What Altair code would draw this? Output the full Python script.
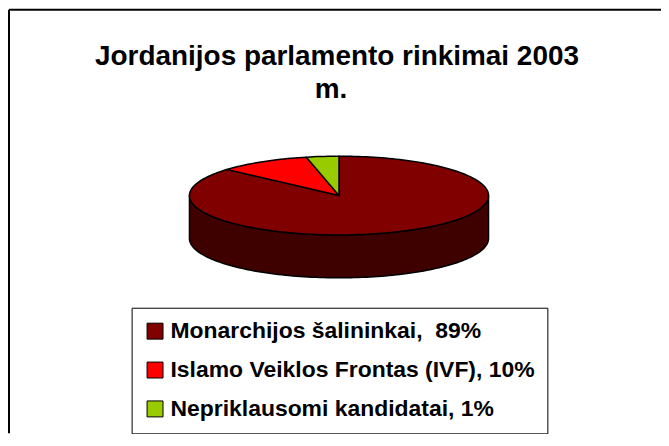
import math
import altair as alt

# ---- data ----
categories = ["Monarchijos šalininkai", "Islamo Veiklos Frontas (IVF)", "Nepriklausomi kandidatai"]
shares = [86.5, 10.0, 3.5]                 # slice sizes as drawn (percent)
printed_pct = ["\u00a0 89%", " 10%", " 1%"]  # percentages as printed in the legend
colors = ["#800000", "#FF0000", "#99CC00"]
side_colors = ["#3F0000", "#7F0000", "#4C6600"]
title_lines = ["Jordanijos parlamento rinkimai 2003", "m."]

labels = [f"{c},{p}" for c, p in zip(categories, printed_pct)]

# ---- 3-D pie geometry (unit radius, tilted) ----
K = 39.5 / 150.0   # ellipse flattening
D = 43.0 / 150.0   # depth of the pie wall


def pt(phi, dy=0.0):
    r = math.radians(phi)
    return [math.sin(r), -math.cos(r) * K + dy]


def arc(a, b, dy=0.0):
    n = max(2, int(math.ceil(abs(b - a) / 1.5)) + 1)
    return [pt(a + (b - a) * i / (n - 1), dy) for i in range(n)]


tops, sides = [], []
start = 0.0
total = sum(shares)
for lab, share, sc in zip(labels, shares, side_colors):
    end = start + share / total * 360.0
    ring = [[0.0, 0.0]] + arc(start, end) + [[0.0, 0.0]]
    tops.append({"type": "Feature", "properties": {"label": lab},
                 "geometry": {"type": "Polygon", "coordinates": [ring]}})
    a, b = max(start, 90.0), min(end, 270.0)
    if b > a:
        ring = arc(a, b) + arc(b, a, D)
        ring.append(ring[0])
        sides.append({"type": "Feature", "properties": {"fill": sc},
                      "geometry": {"type": "Polygon", "coordinates": [ring]}})
    start = end

W, H = 655, 426

side_layer = alt.Chart(alt.Data(values=sides)).mark_geoshape(
    stroke="black", strokeWidth=1.5, strokeJoin="round"
).encode(color=alt.Color("properties.fill:N", scale=None))

top_layer = alt.Chart(alt.Data(values=tops)).mark_geoshape(
    stroke="black", strokeWidth=1.5, strokeJoin="round", opacity=1
).encode(
    color=alt.Color(
        "properties.label:N",
        scale=alt.Scale(domain=labels, range=colors),
        sort=labels,
        legend=alt.Legend(
            title=None, orient="none", legendX=124, legendY=300,
            padding=12, strokeColor="black",
            symbolType="square", symbolSize=256, symbolStrokeColor="black",
            symbolStrokeWidth=1, symbolOpacity=1,
            labelFont="Liberation Sans", labelFontWeight="bold", labelFontSize=23,
            labelColor="black", labelLimit=1000, labelOffset=4, rowPadding=15,
        ),
    )
)

title1 = alt.Chart().mark_text(
    text=title_lines[0], font="Liberation Sans", fontWeight="bold", fontSize=28,
    align="center", baseline="middle", color="black"
).encode(x=alt.value(330), y=alt.value(49))
title2 = alt.Chart().mark_text(
    text=title_lines[1], font="Liberation Sans", fontWeight="bold", fontSize=28,
    align="center", baseline="middle", color="black"
).encode(x=alt.value(324), y=alt.value(82))

frame_left = alt.Chart().mark_rule(color="black", strokeWidth=2).encode(
    x=alt.value(1), y=alt.value(1), y2=alt.value(H))
frame_top = alt.Chart().mark_rule(color="black", strokeWidth=2).encode(
    x=alt.value(1), x2=alt.value(W), y=alt.value(1))

chart = alt.layer(side_layer, top_layer, title1, title2, frame_left, frame_top).project(
    type="identity", scale=150, translate=[332, 187.5]
).properties(
    width=W, height=H, padding=0, autosize="none"
).configure_view(stroke=None)

chart.save("out.html", embed_options={"renderer": "svg", "actions": False})
